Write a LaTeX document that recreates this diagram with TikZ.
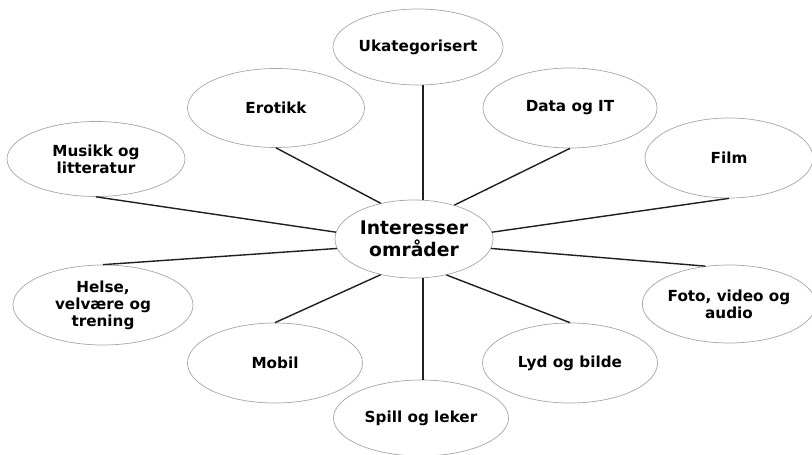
\documentclass[tikz,border=0pt]{standalone}
\usepackage{fontspec}
\setmainfont{DejaVu Sans}
\usetikzlibrary{shapes.geometric}
\tikzset{
  topic/.style={ellipse, draw=black!35, line width=0.6pt, fill=white,
    align=center, inner sep=0pt,
    font=\bfseries\fontsize{13}{14.5}\selectfont},
  hub/.style={topic, font=\bfseries\fontsize{16}{18.5}\selectfont},
  link/.style={draw=black!88, line width=1.2pt}
}
\begin{document}
\begin{tikzpicture}[x=0.03cm, y=-0.03cm]
  \useasboundingbox (0,0) rectangle (812,455);
  % central topic
  \node[hub, minimum width=4.74cm, minimum height=2.34cm] (c) at (414,239) {Interesser\\områder};
  % surrounding topics
  \node[topic, minimum width=5.1cm,  minimum height=2.28cm] (ukat)   at (418,47)  {Ukategorisert};
  \node[topic, minimum width=5.31cm, minimum height=2.37cm] (erot)   at (276,108) {Erotikk};
  \node[topic, minimum width=5.22cm, minimum height=2.4cm]  (data)   at (570,108) {Data og IT};
  \node[topic, minimum width=5.04cm, minimum height=2.4cm]  (film)   at (729,158) {Film};
  \node[topic, minimum width=5.34cm, minimum height=2.25cm] (musikk) at (96,159)  {Musikk og\\litteratur};
  \node[topic, minimum width=5.4cm,  minimum height=2.4cm]  (helse)  at (103,305) {Helse,\\velvære og\\trening};
  \node[topic, minimum width=5.04cm, minimum height=2.34cm] (foto)   at (729,304) {Foto, video og\\audio};
  \node[topic, minimum width=5.25cm, minimum height=2.4cm]  (mobil)  at (275,363) {Mobil};
  \node[topic, minimum width=5.25cm, minimum height=2.4cm]  (lyd)    at (570,363) {Lyd og bilde};
  \node[topic, minimum width=5.25cm, minimum height=2.28cm] (spill)  at (421,418) {Spill og leker};
  % spokes
  \draw[link] (c.77)  -- (c.77 |- ukat.south);
  \draw[link] (c.133) -- (erot.south);
  \draw[link] (c.40)  -- (data.south);
  \draw[link] (c.5)   -- (film.south);
  \draw[link] (c.-7)  -- (foto.122);
  \draw[link] (c.175) -- (musikk.south);
  \draw[link] (c.187) -- (helse.north);
  \draw[link] (c.227) -- (mobil.north);
  \draw[link] (c.283) -- (c.283 |- spill.north);
  \draw[link] (c.312) -- (lyd.north);
\end{tikzpicture}
\end{document}
